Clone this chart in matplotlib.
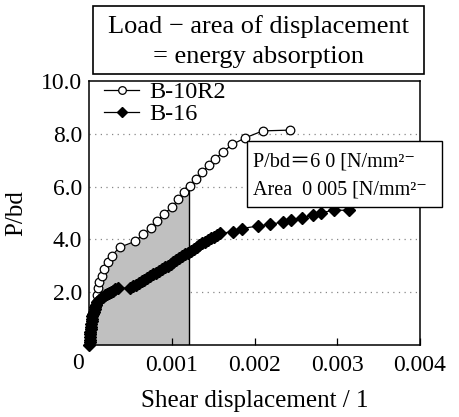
import numpy as np
import matplotlib
matplotlib.use("Agg")
import matplotlib.pyplot as plt
from matplotlib.patches import Rectangle

plt.rcParams['font.family'] = ['Liberation Serif', 'DejaVu Serif']
plt.rcParams['mathtext.fontset'] = 'stix'

# ---- data ----
b10r2_x = [0.0, 0.00002, 0.00004, 0.00006, 0.00008, 0.000097, 0.000105, 0.00012,
           0.000157, 0.000178, 0.000226, 0.000274, 0.000371, 0.000560, 0.000653,
           0.000746, 0.000825, 0.000910, 0.001007, 0.001079, 0.001148, 0.001224,
           0.001289, 0.001369, 0.001450, 0.001526, 0.001619, 0.001732, 0.001891,
           0.002099, 0.002429]
b10r2_y = [0.0, 0.4, 0.9, 1.3, 1.6, 1.89, 2.15, 2.40, 2.62, 2.87, 3.13, 3.38, 3.70,
           3.93, 4.19, 4.43, 4.71, 4.97, 5.24, 5.53, 5.78, 6.01, 6.28, 6.55, 6.81,
           7.06, 7.31, 7.60, 7.85, 8.11, 8.14]

b16_x = [0.000005, 0.000008, 0.000010, 0.000012, 0.000015, 0.000018, 0.000020,
         0.000023, 0.000027, 0.000031, 0.000036, 0.000042, 0.000050, 0.000058,
         0.000067, 0.000076, 0.000085, 0.000100, 0.000120, 0.000145, 0.000170,
         0.000195, 0.000220, 0.000245, 0.000270, 0.000295, 0.000320, 0.000347,
         0.000495, 0.000530, 0.000565, 0.000600, 0.000635, 0.000670, 0.000705,
         0.000740, 0.000775, 0.000810, 0.000845, 0.000880, 0.000915, 0.000950,
         0.000985, 0.001020, 0.001055, 0.001090, 0.001125, 0.001160, 0.001195,
         0.001230, 0.001265, 0.001300, 0.001335, 0.001370, 0.001405, 0.001440,
         0.001475, 0.001510, 0.001545, 0.001583,
         0.001740, 0.001843, 0.002046, 0.002187, 0.002344, 0.002441, 0.002580,
         0.002707, 0.002804, 0.002964, 0.003142]
b16_y = [0.00, 0.10, 0.20, 0.30, 0.40, 0.50, 0.60, 0.70, 0.80, 0.90, 1.00, 1.08,
         1.17, 1.26, 1.35, 1.44, 1.52, 1.61, 1.70, 1.77, 1.83, 1.88, 1.92, 1.96,
         2.01, 2.06, 2.11, 2.15,
         2.16, 2.22, 2.28, 2.35, 2.41, 2.48, 2.54, 2.61, 2.68, 2.74, 2.81, 2.88,
         2.95, 3.01, 3.08, 3.15, 3.22, 3.29, 3.36, 3.43, 3.50, 3.57, 3.64, 3.71,
         3.78, 3.85, 3.92, 3.98, 4.04, 4.10, 4.16, 4.23,
         4.29, 4.41, 4.51, 4.57, 4.66, 4.73, 4.81, 4.94, 5.01, 5.11, 5.10]

area_end_x = 0.00121

x_ticks = [0.001, 0.002, 0.003, 0.004]
x_tick_labels = ['0.001', '0.002', '0.003', '0.004']
y_ticks = [2.0, 4.0, 6.0, 8.0, 10.0]
y_tick_labels = ['2.0', '4.0', '6.0', '8.0', '10.0']

title_lines = ['Load \u2212 area of displacement', '= energy absorption']
note_lines = ['P/bd\uff1d6 0 [N/mm\u00b2\u207b', 'Area  0 005 [N/mm\u00b2\u207b']

# ---- figure ----
W, H = 459, 417
fig = plt.figure(figsize=(W / 100, H / 100), dpi=100)
ax = fig.add_axes([89 / W, 1 - 345 / H, (420 - 89) / W, (345 - 81) / H])

ax.set_xlim(0, 0.004)
ax.set_ylim(0, 10.0)

# shaded area
bx = np.array(b10r2_x)
by = np.array(b10r2_y)
m = bx <= area_end_x
fx = np.append(bx[m], area_end_x)
fy = np.append(by[m], np.interp(area_end_x, bx, by))
ax.fill_between(fx, 0, fy, color='#c0c0c0', lw=0, zorder=1)
ax.plot([area_end_x, area_end_x], [0, fy[-1]], color='black', lw=1.0, zorder=2)

# grid
for yv in [2.0, 4.0, 6.0, 8.0]:
    ax.axhline(yv, color='#888888', lw=0.9, ls=(0, (1, 3.5)), zorder=0.5)

ax.plot(b10r2_x, b10r2_y, color='black', lw=0.9, marker='o', ms=6.2,
        mfc='white', mec='black', mew=0.9, label='B-10R2', zorder=3)
ax.plot(b16_x, b16_y, color='black', lw=0.9, marker='D', ms=6.0,
        mfc='black', mec='black', label='B-16', zorder=4, clip_on=False)

ax.set_xticks(x_ticks)
ax.set_xticklabels(x_tick_labels, fontsize=17)
ax.set_yticks(y_ticks)
ax.set_yticklabels(y_tick_labels, fontsize=17)
ax.tick_params(axis='x', direction='in', length=5, width=0.9, pad=7)
ax.tick_params(axis='y', length=0, pad=5)
ax.text(-11 / 331, -8 / 264, '0', transform=ax.transAxes, ha='center', va='top',
        fontsize=17)

for s in ax.spines.values():
    s.set_linewidth(1.1)

ax.set_xlabel('Shear displacement / 1', fontsize=18, labelpad=10)
ax.set_ylabel('P/bd', fontsize=18, labelpad=10)

leg = ax.legend(loc='upper left', bbox_to_anchor=(0.045, 1.0), frameon=False,
                fontsize=17.5, handlelength=1.45, handletextpad=0.4,
                labelspacing=0.0, borderpad=0.0, borderaxespad=0.0)
for h in leg.legend_handles:
    h.set_markersize(5.5)

# title box
fig.patches.append(Rectangle((93 / W, 1 - 74 / H), (424 - 93) / W, 68 / H,
                             transform=fig.transFigure, fill=False,
                             ec='black', lw=1.2))
fig.text(258.5 / W, 1 - 33.5 / H, title_lines[0], ha='center', va='baseline',
         fontsize=19)
fig.text(258.5 / W, 1 - 63.5 / H, title_lines[1], ha='center', va='baseline',
         fontsize=19)

# note box
fig.patches.append(Rectangle((247.3 / W, 1 - 206.7 / H), (441.7 - 247.3) / W,
                             66 / H, transform=fig.transFigure, fc='white',
                             ec='black', lw=1.0, zorder=5))
nf = ['Liberation Serif', 'Noto Sans CJK JP', 'DejaVu Serif']
fig.text(252.7 / W, 1 - 166 / H, note_lines[0], ha='left', va='baseline',
         fontsize=14.5, family=nf, zorder=6)
fig.text(252.7 / W, 1 - 194.3 / H, note_lines[1], ha='left', va='baseline',
         fontsize=14.5, family=nf, zorder=6)

fig.savefig('out.png', dpi=100)
